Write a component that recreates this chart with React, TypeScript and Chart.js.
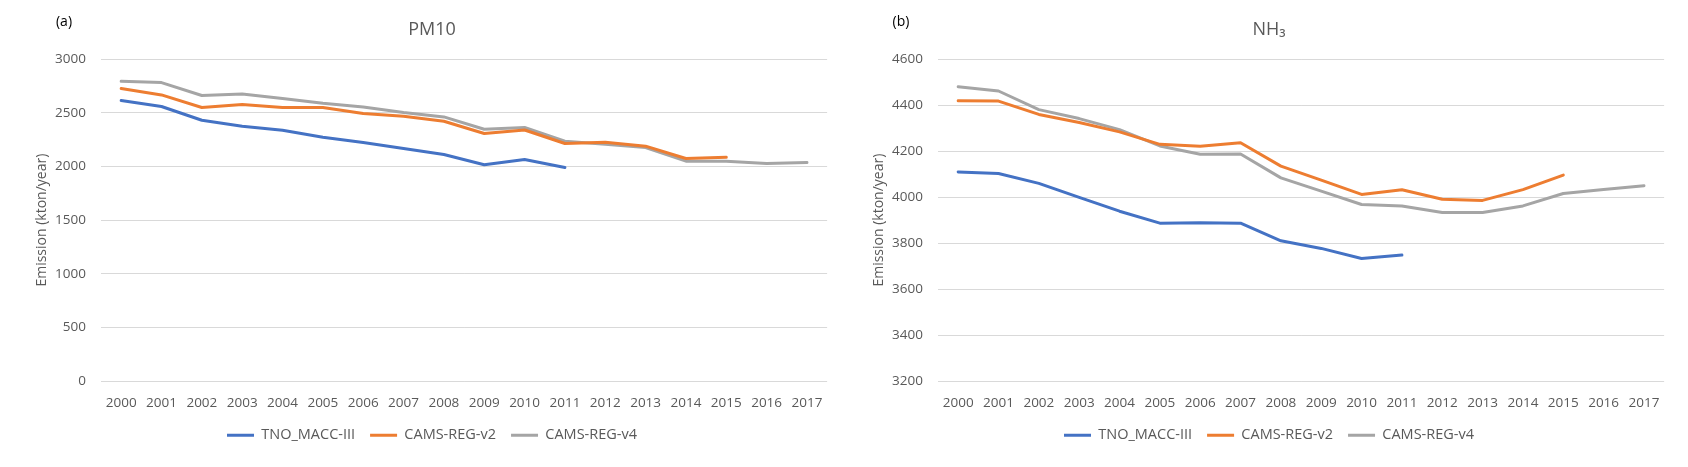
import React, { useEffect, useRef } from "react";
import { Chart, registerables } from "chart.js";

Chart.register(...registerables);

// ---- data ----
const years = [
  "2000", "2001", "2002", "2003", "2004", "2005", "2006", "2007", "2008",
  "2009", "2010", "2011", "2012", "2013", "2014", "2015", "2016", "2017",
];

const seriesNames = ["TNO_MACC-III", "CAMS-REG-v2", "CAMS-REG-v4"];
const seriesColors = ["#4472C4", "#ED7D31", "#A5A5A5"];

const pm10Tno = [2615, 2560, 2432, 2376, 2339, 2273, 2224, 2168, 2112, 2017, 2065, 1991];
const pm10V2 = [2727, 2668, 2550, 2578, 2550, 2550, 2494, 2469, 2422, 2308, 2341, 2215, 2227, 2190, 2075, 2087];
const pm10V4 = [2795, 2783, 2662, 2677, 2634, 2590, 2556, 2503, 2463, 2348, 2364, 2236, 2208, 2177, 2050, 2050, 2028, 2038];

const nh3Tno = [4110, 4103, 4060, 3999, 3939, 3887, 3889, 3887, 3810, 3777, 3733, 3748];
const nh3V2 = [4420, 4418, 4360, 4325, 4284, 4230, 4222, 4237, 4135, 4074, 4012, 4032, 3991, 3986, 4033, 4096];
const nh3V4 = [4481, 4462, 4381, 4342, 4294, 4223, 4187, 4188, 4084, 4026, 3968, 3962, 3933, 3933, 3962, 4016, 4033, 4050];

const yTitle = "Emission (kton/year)";

const FONT = "'Open Sans', 'Noto Sans', 'DejaVu Sans', sans-serif";
const TEXT = "#595959";
const GRID = "#D9D9D9";

const tagPlugin = {
  id: "panelTag",
  afterDraw(chart: any, _args: any, opts: any) {
    const ctx = chart.ctx;
    ctx.save();
    ctx.font = `14px ${FONT}`;
    ctx.fillStyle = "#000000";
    ctx.textAlign = "center";
    ctx.textBaseline = "middle";
    ctx.fillText(opts.text, chart.chartArea.left - 37, 21.7);
    ctx.restore();
  },
};

type PanelProps = {
  tag: string;
  title: string;
  data: number[][];
  min: number;
  max: number;
  step: number;
  left: number;
};

function Panel({ tag, title, data, min, max, step, left }: PanelProps) {
  const ref = useRef<HTMLCanvasElement | null>(null);

  useEffect(() => {
    if (!ref.current) return;
    const chart = new Chart(ref.current, {
      type: "line",
      data: {
        labels: years,
        datasets: data.map((d, i) => ({
          label: seriesNames[i],
          data: d,
          borderColor: seriesColors[i],
          backgroundColor: seriesColors[i],
          borderWidth: 3,
          pointRadius: 0,
          pointHoverRadius: 0,
          tension: 0,
          fill: false,
          borderCapStyle: "round" as const,
          borderJoinStyle: "round" as const,
        })),
      },
      options: {
        responsive: false,
        animation: false,
        events: [],
        layout: { padding: { left: 28, right: 0, top: 0, bottom: 14.5 } },
        plugins: {
          title: {
            display: true,
            text: title,
            color: TEXT,
            font: { family: FONT, size: 18, weight: "normal" as const },
            padding: { top: 19.2, bottom: 18.5 },
          },
          legend: {
            position: "bottom",
            labels: {
              usePointStyle: true,
              pointStyle: "line",
              pointStyleWidth: 27,
              padding: 15,
              color: TEXT,
              font: { family: FONT, size: 14.5 },
            },
          },
          tooltip: { enabled: false },
          panelTag: { text: tag },
        } as any,
        scales: {
          x: {
            offset: true,
            grid: { display: false, drawTicks: false, offset: true },
            border: { display: false },
            ticks: {
              padding: 13.6,
              color: TEXT,
              font: { family: FONT, size: 13.5 },
              maxRotation: 0,
              autoSkip: false,
            },
            afterFit: (s: any) => {
              s.height = 32;
            },
          },
          y: {
            min,
            max,
            grid: { color: GRID, lineWidth: 1, drawTicks: false },
            border: { display: false },
            ticks: {
              stepSize: step,
              padding: 15,
              color: TEXT,
              font: { family: FONT, size: 13.5 },
              callback: (v: any) => String(v),
            },
            title: {
              display: true,
              text: yTitle,
              color: TEXT,
              font: { family: FONT, size: 14 },
              padding: { top: 5.3, bottom: 0 },
            },
            afterFit: (s: any) => {
              s.width = 73;
            },
          },
        },
      },
      plugins: [tagPlugin],
    });
    return () => chart.destroy();
  }, []);

  return (
    <canvas
      ref={ref}
      width={836}
      height={467}
      style={{ position: "absolute", left, top: 0, width: 836, height: 467 }}
    />
  );
}

export default function App() {
  return (
    <div
      style={{
        position: "absolute",
        left: 0,
        top: 0,
        width: 1688,
        height: 467,
        overflow: "hidden",
        background: "#ffffff",
      }}
    >
      <Panel tag="(a)" title="PM10" data={[pm10Tno, pm10V2, pm10V4]} min={0} max={3000} step={500} left={0} />
      <Panel tag="(b)" title="NH₃" data={[nh3Tno, nh3V2, nh3V4]} min={3200} max={4600} step={200} left={837} />
    </div>
  );
}
